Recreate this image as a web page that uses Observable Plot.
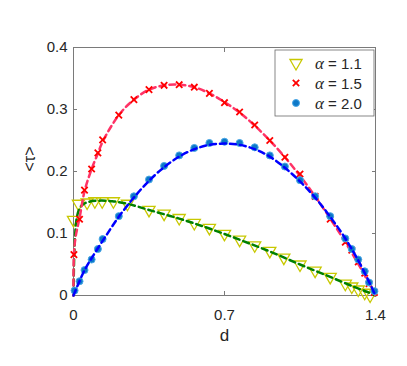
<!DOCTYPE html>
<html><head><meta charset="utf-8">
<script src="https://cdn.jsdelivr.net/npm/d3@7"></script>
<script src="https://cdn.jsdelivr.net/npm/@observablehq/plot@0.6"></script>
<style>body{margin:0;background:#fff} #chart{position:relative;width:407px;height:366px}</style>
</head><body><div id="chart"></div>
<script>
// ---- data ----
const alphaLabels = ["1.1", "1.5", "2.0"];
const xTicks = [0, 0.7, 1.4];
const xTickLabels = ["0", "0.7", "1.4"];
const yTicks = [0, 0.1, 0.2, 0.3, 0.4];
const yTickLabels = ["0", "0.1", "0.2", "0.3", "0.4"];

// alpha = 1.1 (triangles)
const dA11 = [0.0,0.023,0.063,0.099,0.133,0.185,0.25,0.35,0.42,0.49,0.56,0.63,0.70,0.77,0.84,0.91,0.975,1.05,1.12,1.19,1.26,1.29,1.32,1.35,1.375];
const tA11 = [0.122,0.148,0.150,0.152,0.152,0.152,0.148,0.138,0.132,0.125,0.117,0.109,0.0995,0.090,0.081,0.072,0.061,0.050,0.040,0.030,0.019,0.0145,0.0097,0.0044,0.0];
// alpha = 1.5 (crosses)
const dA15 = [0.002,0.028,0.051,0.084,0.113,0.135,0.21,0.28,0.35,0.42,0.49,0.56,0.63,0.70,0.77,0.84,0.91,0.98,1.05,1.12,1.19,1.26,1.29,1.32,1.35,1.37,1.395];
const tA15 = [0.066,0.123,0.170,0.204,0.230,0.251,0.291,0.316,0.332,0.339,0.340,0.336,0.326,0.311,0.296,0.275,0.250,0.223,0.196,0.160,0.123,0.086,0.073,0.054,0.036,0.019,0.005];
// alpha = 2.0 (circles)
const dA20 = [0.005,0.028,0.051,0.084,0.113,0.135,0.21,0.28,0.35,0.42,0.49,0.56,0.63,0.70,0.77,0.84,0.91,0.98,1.05,1.12,1.19,1.26,1.29,1.32,1.35,1.37,1.395];
const tA20 = [0.008,0.023,0.041,0.058,0.075,0.091,0.128,0.160,0.187,0.209,0.226,0.238,0.246,0.248,0.246,0.239,0.226,0.208,0.186,0.160,0.128,0.092,0.075,0.058,0.039,0.021,0.007];

// dashed fit curves
const fitD11 = [0,0.003,0.008,0.015,0.025,0.04,0.07,0.12,0.18,0.25,0.35,0.49,0.63,0.77,0.91,1.05,1.19,1.3,1.36,1.4];
const fitT11 = [0,0.06,0.10,0.125,0.138,0.146,0.151,0.153,0.152,0.148,0.138,0.124,0.108,0.090,0.071,0.050,0.030,0.014,0.006,0];
const fitD15 = [0,0.002,0.01,0.028,0.051,0.084,0.113,0.135,0.21,0.28,0.35,0.42,0.49,0.56,0.63,0.70,0.77,0.84,0.91,0.98,1.05,1.12,1.19,1.26,1.33,1.4];
const fitT15 = [0,0.066,0.095,0.125,0.168,0.204,0.229,0.248,0.291,0.316,0.332,0.339,0.340,0.336,0.326,0.312,0.295,0.274,0.250,0.223,0.193,0.160,0.124,0.086,0.045,0];
const fitD20 = [0,0.05,0.1,0.15,0.21,0.28,0.35,0.42,0.49,0.56,0.63,0.70,0.77,0.84,0.91,0.98,1.05,1.12,1.19,1.26,1.33,1.4];
const fitT20 = [0,0.040,0.069,0.096,0.127,0.158,0.185,0.207,0.224,0.236,0.243,0.245,0.243,0.236,0.224,0.206,0.184,0.158,0.127,0.092,0.050,0];

const rows = (d, t) => d.map((x, i) => ({d: x, tau: t[i]}));
const pts11 = rows(dA11, tA11), pts15 = rows(dA15, tA15), pts20 = rows(dA20, tA20);
const fit11 = rows(fitD11, fitT11), fit15 = rows(fitD15, fitT15), fit20 = rows(fitD20, fitT20);

const colTri = "#c8c800", colCross = "#ff0000", colCircle = "#0d78c8";
const lineG = "#008000", lineR = "#ff3366", lineB = "#0000ff";
const axisCol = "#7a7a7a", textCol = "#262626";
const dash = "6,4";

const fig = Plot.plot({
  width: 407, height: 366,
  marginLeft: 73, marginRight: 32, marginTop: 47, marginBottom: 71,
  style: {fontFamily: "'Liberation Sans', Arial, sans-serif", fontSize: "15px", color: textCol, background: "#fff", overflow: "visible"},
  x: {domain: [0, 1.4]},
  y: {domain: [0, 0.4]},
  marks: [
    Plot.frame({stroke: axisCol}),
    Plot.axisX({ticks: xTicks, tickSize: -4, tickPadding: 18, tickFormat: (d) => xTickLabels[xTicks.indexOf(d)], label: null, stroke: axisCol, fill: textCol, fontSize: 15}),
    Plot.axisX({anchor: "top", ticks: xTicks, tickSize: -4, tickFormat: () => "", label: null, stroke: axisCol}),
    Plot.axisY({ticks: yTicks, tickSize: -4, tickPadding: 10, tickFormat: (d) => yTickLabels[yTicks.indexOf(d)], label: null, stroke: axisCol, fill: textCol, fontSize: 15}),
    Plot.axisY({anchor: "right", ticks: yTicks, tickSize: -4, tickFormat: () => "", label: null, stroke: axisCol}),
    Plot.dot(pts11, {x: "d", y: "tau", symbol: "triangle", rotate: 180, r: 4.5, stroke: colTri, strokeWidth: 1.3, fill: "none"}),
    Plot.line(fit11, {x: "d", y: "tau", stroke: lineG, strokeWidth: 2.5, strokeDasharray: dash, curve: "catmull-rom"}),
    Plot.line(fit15, {x: "d", y: "tau", stroke: lineR, strokeWidth: 2.5, strokeDasharray: dash, curve: "catmull-rom"}),
    Plot.dot(pts15, {x: "d", y: "tau", symbol: "times", r: 3, stroke: colCross, strokeWidth: 1.8}),
    Plot.dot(pts20, {x: "d", y: "tau", symbol: "circle", r: 3.5, fill: colCircle, stroke: "#4aa8e6", strokeWidth: 1}),
    Plot.line(fit20, {x: "d", y: "tau", stroke: lineB, strokeWidth: 2.5, strokeDasharray: dash, curve: "catmull-rom"}),
    Plot.text(["d"], {frameAnchor: "bottom", dy: 45, fontSize: 17, fill: textCol}),
    Plot.text(["<τ>"], {frameAnchor: "left", dx: -44, rotate: -90, fontSize: 16, fill: textCol})
  ]
});
document.getElementById("chart").appendChild(fig);

// legend inside the axes (north-east)
const svg = d3.select(fig);
const lg = svg.append("g").attr("transform", "translate(275,50)");
lg.append("rect").attr("width", 99).attr("height", 66).attr("fill", "#fff").attr("stroke", "#6a6a6a").attr("stroke-width", 0.8);
const legendSym = [
  {type: d3.symbolTriangle, size: Math.PI * 4.5 * 4.5, fill: "none", stroke: colTri, sw: 1.3, rot: 180},
  {type: d3.symbolTimes, size: Math.PI * 9, fill: "none", stroke: colCross, sw: 1.8, rot: 0},
  {type: d3.symbolCircle, size: Math.PI * 3.5 * 3.5, fill: colCircle, stroke: "#4aa8e6", sw: 1, rot: 0}
];
alphaLabels.forEach((lab, i) => {
  const cy = 13 + i * 20;
  const s = legendSym[i];
  lg.append("path").attr("d", d3.symbol(s.type, s.size)())
    .attr("transform", `translate(21,${cy}) rotate(${s.rot})`)
    .attr("fill", s.fill).attr("stroke", s.stroke).attr("stroke-width", s.sw);
  const t = lg.append("text").attr("x", 40).attr("y", cy + 5.5).attr("font-size", 15).attr("fill", textCol)
    .attr("text-anchor", "start")
    .attr("font-family", "'Liberation Sans', Arial, sans-serif");
  t.append("tspan").attr("font-family", "'Liberation Serif', serif").attr("font-style", "italic").attr("font-size", 17).text("α");
  t.append("tspan").text(" = " + lab);
});
</script>
</body></html>
